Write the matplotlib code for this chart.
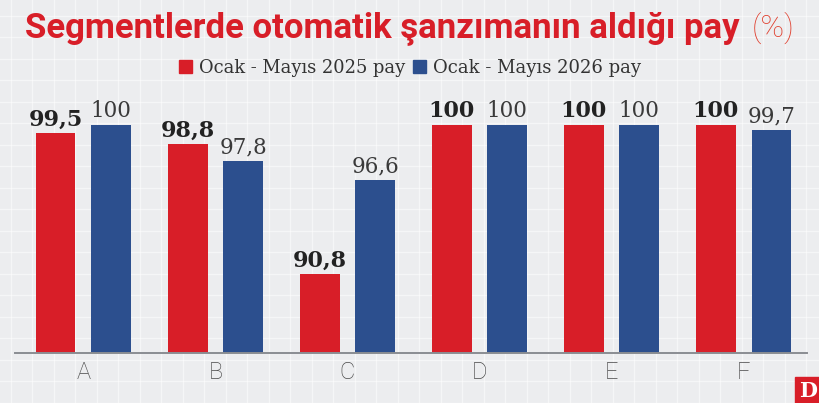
import matplotlib
matplotlib.use("Agg")
import matplotlib.pyplot as plt
from matplotlib import font_manager
import numpy as np

# ---- data ----
categories = ["A", "B", "C", "D", "E", "F"]
share_2025 = [99.5, 98.8, 90.8, 100, 100, 100]
share_2026 = [100, 97.8, 96.6, 100, 100, 99.7]
labels_2025 = ["99,5", "98,8", "90,8", "100", "100", "100"]
labels_2026 = ["100", "97,8", "96,6", "100", "100", "99,7"]
series_names = ["Ocak - Mayıs 2025 pay", "Ocak - Mayıs 2026 pay"]
title_main = "Segmentlerde otomatik şanzımanın aldığı pay"
title_unit = "(%)"

RED = "#D81E28"
BLUE = "#2C4F8E"
BG = "#ECEDEF"

W, H = 820, 403
fig = plt.figure(figsize=(W / 100, H / 100), dpi=100)
fig.patch.set_facecolor(BG)

names = {f.name for f in font_manager.fontManager.ttflist}
title_font = "Liberation Sans Narrow" if "Liberation Sans Narrow" in names else "Roboto"

# background graph-paper grid
bg = fig.add_axes([0, 0, 1, 1], zorder=-10)
bg.set_xlim(0, W)
bg.set_ylim(H, 0)
bg.axis("off")
step = 21.5
for yy in np.arange(338 % step, H, step):
    bg.axhline(yy, color="white", lw=0.9, alpha=0.5, zorder=1)
for xx in np.arange(11, W, step):
    bg.axvline(xx, color="white", lw=0.9, alpha=0.5, zorder=1)

# main axes: pixel geometry
left, right, top, base = 15, 807, 125, 353
ax = fig.add_axes([left / W, (H - base) / H, (right - left) / W, (base - top) / H])
ax.set_facecolor("none")
x = np.arange(len(categories))
bw = 0.30
off = 0.21
ax.bar(x - off, share_2025, bw, color=RED, zorder=3)
ax.bar(x + off, share_2026, bw, color=BLUE, zorder=3)
ax.set_xlim(-0.518, 5.48)
ax.set_ylim(85.92, 100)
for s in ["top", "right", "left"]:
    ax.spines[s].set_visible(False)
ax.spines["bottom"].set_color("#8a8d92")
ax.spines["bottom"].set_linewidth(1.4)
ax.spines["bottom"].set_zorder(4)
ax.set_yticks([])
ax.set_xticks(x)
ax.set_xticklabels(categories, fontsize=17, color="#4a4a4a",
                   family=["Roboto", "DejaVu Sans"], fontweight="light")
ax.tick_params(axis="x", length=0, pad=6)

for i in range(len(categories)):
    ax.annotate(labels_2025[i], (x[i] - off, share_2025[i]), xytext=(0, 5.5),
                textcoords="offset points", ha="center", va="baseline",
                fontsize=16, fontweight="bold", family="DejaVu Serif",
                color="#222222", annotation_clip=False)
    ax.annotate(labels_2026[i], (x[i] + off, share_2026[i]), xytext=(0, 5.5),
                textcoords="offset points", ha="center", va="baseline",
                fontsize=15.5, family="DejaVu Serif", color="#3a3a3a",
                annotation_clip=False)

renderer = fig.canvas.get_renderer()


def fit(t, width_px):
    bb = t.get_window_extent(renderer)
    t.set_fontsize(t.get_fontsize() * width_px / bb.width)


# title
t1 = fig.text(25 / W, 1 - 37 / H, title_main, fontsize=26, fontweight="bold",
              color=RED, family=[title_font, "DejaVu Sans"], ha="left", va="baseline")
fit(t1, 742 - 25)
t2 = fig.text(752 / W, 1 - 37 / H, title_unit, fontsize=26, fontweight="light",
              color="#E0402F", family=["Roboto", "DejaVu Sans"], ha="left", va="baseline")
fit(t2, 795 - 752)

# legend
leg_y = 66
sq = 13
for (x0, tx0, tx1, col, name) in [(179, 199, 405, RED, series_names[0]),
                                  (413, 433, 640, BLUE, series_names[1])]:
    bg.add_patch(plt.Rectangle((x0, leg_y - sq / 2), sq, sq, color=col, zorder=5))
    tt = fig.text(tx0 / W, 1 - leg_y / H, name, fontsize=12, family="DejaVu Serif",
                  color="#333333", ha="left", va="center_baseline")
    fit(tt, tx1 - tx0)

# logo
bg.add_patch(plt.Rectangle((795, 377), 25, 26, color=RED, zorder=5))
fig.text(808 / W, 1 - 391 / H, "D", fontsize=15, fontweight="bold",
         family="DejaVu Serif", color="white", ha="center", va="center")

fig.savefig("out.png", dpi=100, facecolor=BG)
